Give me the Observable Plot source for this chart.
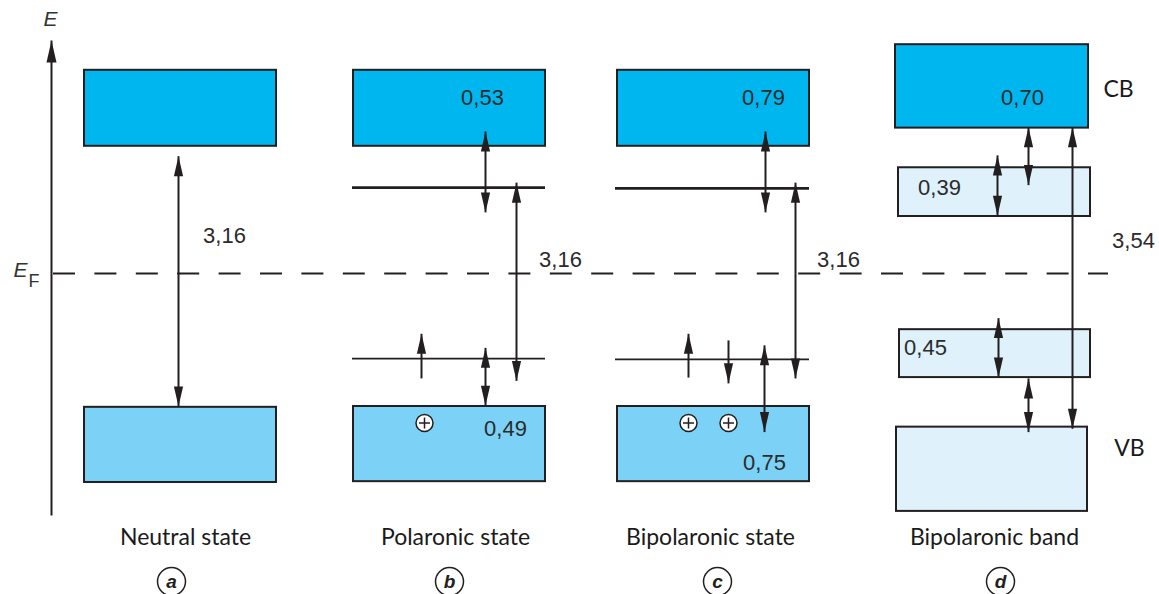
<!DOCTYPE html>
<html>
<head>
<meta charset="utf-8">
<script src="https://cdn.jsdelivr.net/npm/d3@7"></script>
<script src="https://cdn.jsdelivr.net/npm/@observablehq/plot@0.6"></script>
<style>
  html, body { margin: 0; padding: 0; background: #fff; }
  #chart svg { display: block; }
</style>
</head>
<body>
<div id="chart"></div>
<script>
// Schematic energy scale: energies in eV relative to the Fermi level (E_F = 0).
// Horizontal positions are in diagram units.
const eMin = -3.886, eMax = 3.305;

const fillKinds = ["CB", "VB", "band"];
const fillColors = ["#00b6ee", "#7bd1f6", "#dff1fb"];

const bands = [
  {panel: "a", kind: "CB",  x1: 84,  x2: 276,  top: 2.46, bottom: 1.54},
  {panel: "a", kind: "VB",  x1: 84,  x2: 276,  top: -1.62, bottom: -2.53},
  {panel: "b", kind: "CB",  x1: 353, x2: 545,  top: 2.46, bottom: 1.54},
  {panel: "b", kind: "VB",  x1: 353, x2: 545,  top: -1.61, bottom: -2.52},
  {panel: "c", kind: "CB",  x1: 617, x2: 809,  top: 2.46, bottom: 1.54},
  {panel: "c", kind: "VB",  x1: 617, x2: 809,  top: -1.61, bottom: -2.52},
  {panel: "d", kind: "CB",  x1: 895, x2: 1088, top: 2.77, bottom: 1.76},
  {panel: "d", kind: "band", x1: 898, x2: 1090, top: 1.28, bottom: 0.69},
  {panel: "d", kind: "band", x1: 899, x2: 1090, top: -0.68, bottom: -1.26},
  {panel: "d", kind: "band", x1: 896, x2: 1087, top: -1.86, bottom: -2.88}
];

// Localized gap states (polaron / bipolaron levels)
const upperLevels = [
  {panel: "b", x1: 352, x2: 545, e: 1.04},
  {panel: "c", x1: 615, x2: 809, e: 1.03}
];
const lowerLevels = [
  {panel: "b", x1: 352, x2: 545, e: -1.03},
  {panel: "c", x1: 615, x2: 809, e: -1.04}
];

// Transitions: double-headed arrows (top/bottom = tip energies)
const transitions = [
  {panel: "a", x: 178,  top: 1.42, bottom: -1.61},
  {panel: "b", x: 485,  top: 1.72, bottom: 0.74},
  {panel: "b", x: 516,  top: 1.10, bottom: -1.30},
  {panel: "b", x: 485,  top: -0.90, bottom: -1.60},
  {panel: "c", x: 765,  top: 1.72, bottom: 0.74},
  {panel: "c", x: 795,  top: 1.10, bottom: -1.27},
  {panel: "c", x: 764,  top: -0.87, bottom: -1.92},
  {panel: "d", x: 1028, top: 1.77, bottom: 1.07},
  {panel: "d", x: 997,  top: 1.43, bottom: 0.70},
  {panel: "d", x: 1072, top: 1.77, bottom: -1.88},
  {panel: "d", x: 998,  top: -0.54, bottom: -1.26},
  {panel: "d", x: 1028, top: -1.27, bottom: -1.92}
];

// Electron spins: single-headed arrows
const spins = [
  {panel: "b", x: 421, top: -0.73, bottom: -1.27, dir: "up"},
  {panel: "c", x: 688, top: -0.73, bottom: -1.26, dir: "up"},
  {panel: "c", x: 728, top: -0.81, bottom: -1.33, dir: "down"}
];

// Holes in the valence band
const holes = [
  {panel: "b", x: 424, e: -1.81},
  {panel: "c", x: 688, e: -1.81},
  {panel: "c", x: 728, e: -1.81}
];

// Energy values written on the diagram
const gapLabels = [
  {text: "3,16", x: 224,  e: 0.45},
  {text: "0,53", x: 482,  e: 2.12},
  {text: "3,16", x: 560,  e: 0.16},
  {text: "0,49", x: 505,  e: -1.88},
  {text: "0,79", x: 763,  e: 2.12},
  {text: "3,16", x: 838,  e: 0.16},
  {text: "0,75", x: 764,  e: -2.29},
  {text: "0,70", x: 1022, e: 2.12},
  {text: "0,39", x: 939,  e: 1.04},
  {text: "3,54", x: 1133, e: 0.40},
  {text: "0,45", x: 925,  e: -0.90}
];
const bandNames = [
  {text: "CB", x: 1118, e: 2.22},
  {text: "VB", x: 1129, e: -2.12}
];

const panelLetters = ["a", "b", "c", "d"];
const panelNames = ["Neutral state", "Polaronic state", "Bipolaronic state", "Bipolaronic band"];
const panelNameX = [185, 455, 710, 994];
const panelLetterX = [171, 449, 717, 1000];
const panelNameE = -3.20;
const panelLetterE = -3.73;

const axisX = 51, axisBottom = -2.93, axisTop = 2.82;
const fermiLevel = 0, fermiX1 = 53, fermiX2 = 1108;

// ---- drawing helpers ----
const ink = "#231f20";
const headUp = {draw(ctx) { ctx.moveTo(0, 0); ctx.lineTo(4.6, 20); ctx.lineTo(-4.6, 20); ctx.closePath(); }};
const headDown = {draw(ctx) { ctx.moveTo(0, 0); ctx.lineTo(4.6, -20); ctx.lineTo(-4.6, -20); ctx.closePath(); }};
const axisHead = {draw(ctx) { ctx.moveTo(0, 0); ctx.lineTo(5, 22); ctx.lineTo(-5, 22); ctx.closePath(); }};
const oplus = {draw(ctx) {
  const r = 8.5, a = 5.5;
  ctx.moveTo(r, 0); ctx.arc(0, 0, r, 0, 2 * Math.PI);
  ctx.moveTo(-a, 0); ctx.lineTo(a, 0);
  ctx.moveTo(0, -a); ctx.lineTo(0, a);
}};

const numFont = "'Liberation Sans', Arial, sans-serif";
const labelFont = "Lato, 'Open Sans', sans-serif";

const panelTable = panelLetters.map((l, i) => ({letter: l, name: panelNames[i], nx: panelNameX[i], lx: panelLetterX[i]}));

const chart = Plot.plot({
  width: 1159,
  height: 594,
  margin: 0,
  x: {domain: [0, 1159], axis: null},
  y: {domain: [eMin, eMax], axis: null},
  color: {domain: fillKinds, range: fillColors},
  style: {background: "#fff", overflow: "visible"},
  marks: [
    // Fermi level
    Plot.ruleY([fermiLevel], {x1: fermiX1, x2: fermiX2, stroke: ink, strokeWidth: 2, strokeDasharray: "22,19.4"}),
    // bands
    Plot.rect(bands, {x1: "x1", x2: "x2", y1: "bottom", y2: "top", fill: "kind", stroke: ink, strokeWidth: 2}),
    // gap states
    Plot.ruleY(upperLevels, {y: "e", x1: "x1", x2: "x2", stroke: ink, strokeWidth: 2.6}),
    Plot.ruleY(lowerLevels, {y: "e", x1: "x1", x2: "x2", stroke: ink, strokeWidth: 1.6}),
    // transitions
    Plot.link(transitions, {x1: "x", x2: "x", y1: "bottom", y2: "top", stroke: ink, strokeWidth: 2}),
    Plot.dot(transitions, {x: "x", y: "top", symbol: headUp, fill: ink, stroke: "none"}),
    Plot.dot(transitions, {x: "x", y: "bottom", symbol: headDown, fill: ink, stroke: "none"}),
    // spins
    Plot.link(spins, {x1: "x", x2: "x", y1: "bottom", y2: "top", stroke: ink, strokeWidth: 2}),
    Plot.dot(spins.filter(d => d.dir === "up"), {x: "x", y: "top", symbol: headUp, fill: ink, stroke: "none"}),
    Plot.dot(spins.filter(d => d.dir === "down"), {x: "x", y: "bottom", symbol: headDown, fill: ink, stroke: "none"}),
    // holes
    Plot.dot(holes, {x: "x", y: "e", symbol: oplus, fill: "#fff", stroke: ink, strokeWidth: 1.5}),
    // energy axis
    Plot.link([{x: axisX, y1: axisBottom, y2: axisTop}], {x1: "x", x2: "x", y1: "y1", y2: "y2", stroke: ink, strokeWidth: 2}),
    Plot.dot([{x: axisX, y: axisTop}], {x: "x", y: "y", symbol: axisHead, fill: ink, stroke: "none"}),
    Plot.text(["E"], {x: 50, y: 3.08, text: d => d, fontSize: 21, fontStyle: "italic", fontFamily: numFont, fill: "#333"}),
    Plot.text(["E"], {x: 20, y: 0.04, text: d => d, fontSize: 21, fontStyle: "italic", fontFamily: numFont, fill: "#333"}),
    Plot.text(["F"], {x: 33.5, y: -0.09, text: d => d, fontSize: 18, fontFamily: numFont, fill: "#333"}),
    // values
    Plot.text(gapLabels, {x: "x", y: "e", text: "text", fontSize: 22, fontFamily: numFont, fill: "#2b2b2b"}),
    Plot.text(bandNames, {x: "x", y: "e", text: "text", fontSize: 23, fontFamily: labelFont, fill: "#1a1a1a"}),
    // panel titles
    Plot.text(panelTable, {x: "nx", y: panelNameE, text: "name", fontSize: 23, fontFamily: labelFont, fill: "#1a1a1a"}),
    Plot.dot(panelTable, {x: "lx", y: panelLetterE, r: 14, fill: "#fff", stroke: ink, strokeWidth: 1.5}),
    Plot.text(panelTable, {x: "lx", y: panelLetterE, text: "letter", fontSize: 19, fontWeight: "bold", fontStyle: "italic", fontFamily: numFont, fill: ink})
  ]
});

document.getElementById("chart").append(chart);
</script>
</body>
</html>
